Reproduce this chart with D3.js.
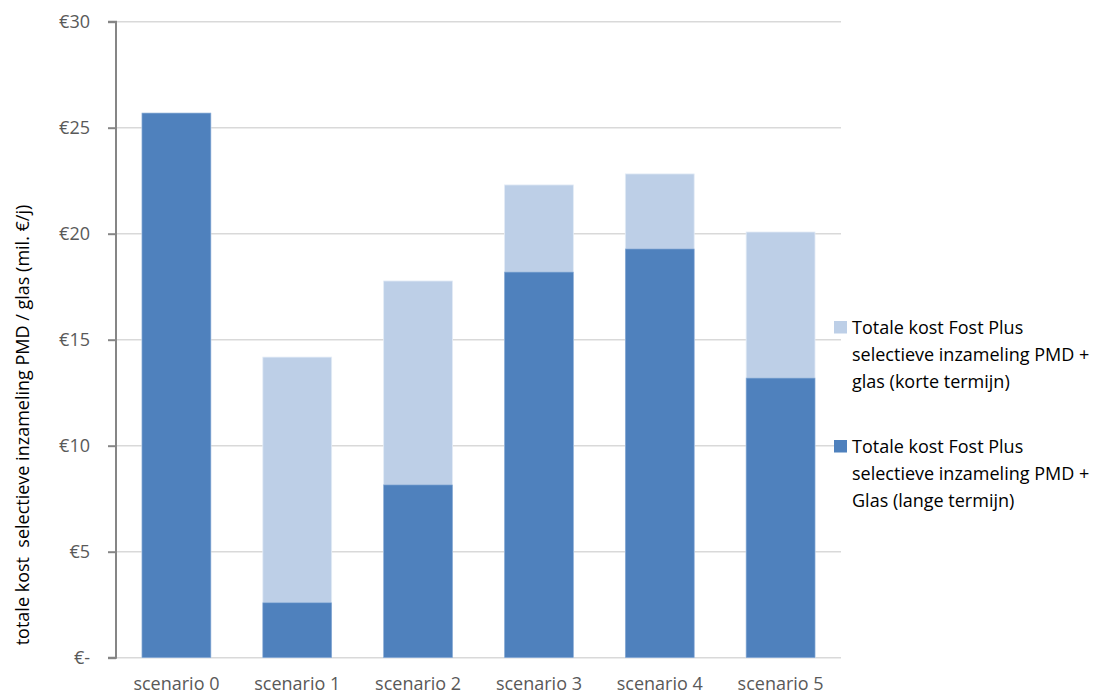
<!DOCTYPE html>
<html><head><meta charset="utf-8">
<script src="https://cdn.jsdelivr.net/npm/d3@7"></script>
<style>body{margin:0;background:#fff}svg{display:block}text{font-family:"Open Sans",sans-serif}</style>
</head><body><svg id="c" width="1105" height="694"></svg>
<script>
const categories = ["scenario 0","scenario 1","scenario 2","scenario 3","scenario 4","scenario 5"];
const shortTerm = [25.69, 14.18, 17.77, 22.30, 22.82, 20.08];
const longTerm  = [25.69, 2.59, 8.15, 18.19, 19.28, 13.19];
const yTicks = [0,5,10,15,20,25,30];
const tickLabels = ["€-","€5","€10","€15","€20","€25","€30"];
const seriesNames = ["Totale kost Fost Plus selectieve inzameling PMD + glas (korte termijn)",
                     "Totale kost Fost Plus selectieve inzameling PMD + Glas (lange termijn)"];
const legendLines = [["Totale kost Fost Plus","selectieve inzameling PMD +","glas (korte termijn)"],
                     ["Totale kost Fost Plus","selectieve inzameling PMD +","Glas (lange termijn)"]];
const colors = ["#bdcfe7","#4f81bd"];
const yTitle = "totale kost  selectieve inzameling PMD / glas (mil. €/j)";

const svg = d3.select("#c");
const L = 116, R = 841, T = 21.7, B = 657.7;
const FS = 18;
const x = d3.scaleBand().domain(categories).range([L, R]).paddingInner(0.43).paddingOuter(0.215);
const y = d3.scaleLinear().domain([0,30]).range([B, T]);

// gridlines
svg.append("g").selectAll("line").data(yTicks).join("line")
  .attr("x1", L).attr("x2", R).attr("y1", d=>y(d)).attr("y2", d=>y(d))
  .attr("stroke", "#d9d9d9").attr("stroke-width", 1.5);

// bars
const g = svg.append("g");
g.selectAll(".s").data(categories).join("rect").attr("class","s")
  .attr("x", d=>x(d)).attr("width", x.bandwidth())
  .attr("y", (d,i)=>y(shortTerm[i])).attr("height", (d,i)=>B - y(shortTerm[i]))
  .attr("fill", colors[0]).attr("stroke","#e4ecf6").attr("stroke-width",0.8);
g.selectAll(".l").data(categories).join("rect").attr("class","l")
  .attr("x", d=>x(d)).attr("width", x.bandwidth())
  .attr("y", (d,i)=>y(longTerm[i])).attr("height", (d,i)=>B - y(longTerm[i]))
  .attr("fill", colors[1]).attr("stroke","#8fb0d8").attr("stroke-width",0.6);

// y axis
const ya = svg.append("g").attr("transform", `translate(${L},0)`)
  .call(d3.axisLeft(y).tickValues(yTicks).tickFormat((d,i)=>tickLabels[i]).tickSize(8).tickPadding(18));
ya.select(".domain").attr("stroke","#868686").attr("stroke-width",2).attr("d", `M-8,${T}H0V${B}H-8`);
ya.selectAll(".tick line").attr("stroke","#868686").attr("stroke-width",2);
ya.selectAll(".tick text").attr("fill","#595959").attr("font-size",FS).attr("font-family","'Open Sans',sans-serif");

// x axis labels
const xa = svg.append("g").attr("transform", `translate(0,${B})`)
  .call(d3.axisBottom(x).tickSize(0).tickPadding(20));
xa.select(".domain").remove();
xa.selectAll(".tick text").attr("fill","#595959").attr("font-size",FS).attr("font-family","'Open Sans',sans-serif");

// y title
svg.append("text").attr("transform", `translate(29,425) rotate(-90)`)
  .attr("text-anchor","middle").attr("font-size",FS).attr("fill","#000")
  .style("white-space","pre").text(yTitle);

// legend
const leg = svg.append("g");
const ly = [327, 446];
legendLines.forEach((lines, i) => {
  leg.append("rect").attr("x", 834).attr("y", ly[i]-6).attr("width", 13).attr("height", 12.5).attr("fill", colors[i]);
  const t = leg.append("text").attr("x", 852).attr("y", ly[i]+7).attr("font-size",FS).attr("fill","#000");
  lines.forEach((s, j) => t.append("tspan").attr("x", 852).attr("dy", j ? 27 : 0).text(s));
});
</script></body></html>
